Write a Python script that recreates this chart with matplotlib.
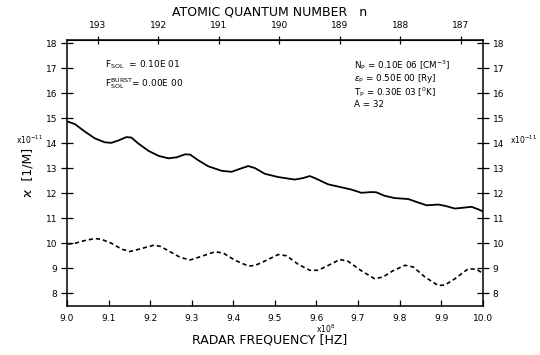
import numpy as np
import matplotlib.pyplot as plt

# radar frequency (x10^8 Hz) and kappa (x10^-11 1/M)
f_solid = [9.002, 9.019, 9.043, 9.067, 9.091, 9.107, 9.123, 9.143, 9.155, 9.171,
           9.196, 9.220, 9.244, 9.264, 9.284, 9.296, 9.316, 9.340, 9.372, 9.396,
           9.416, 9.436, 9.452, 9.476, 9.508, 9.548, 9.568, 9.584, 9.596, 9.628,
           9.660, 9.684, 9.708, 9.732, 9.744, 9.764, 9.788, 9.821, 9.845, 9.865,
           9.893, 9.909, 9.933, 9.957, 9.973, 9.989, 10.000]
k_solid = [14.86, 14.76, 14.46, 14.19, 14.03, 14.01, 14.10, 14.24, 14.22, 13.99,
           13.69, 13.49, 13.39, 13.43, 13.55, 13.54, 13.31, 13.07, 12.89, 12.85,
           12.97, 13.08, 13.00, 12.77, 12.64, 12.54, 12.60, 12.68, 12.60, 12.35,
           12.23, 12.14, 12.01, 12.04, 12.03, 11.89, 11.80, 11.76, 11.62, 11.51,
           11.54, 11.49, 11.38, 11.42, 11.45, 11.35, 11.27]

f_dash = [9.002, 9.019, 9.043, 9.067, 9.083, 9.107, 9.131, 9.151, 9.175, 9.208,
          9.224, 9.244, 9.272, 9.296, 9.324, 9.356, 9.376, 9.404, 9.436, 9.452,
          9.476, 9.508, 9.528, 9.556, 9.584, 9.604, 9.628, 9.656, 9.676, 9.708,
          9.740, 9.760, 9.784, 9.813, 9.833, 9.861, 9.893, 9.909, 9.933, 9.965,
          9.985, 9.998]
k_dash = [9.96, 9.99, 10.10, 10.18, 10.15, 9.99, 9.76, 9.66, 9.76, 9.91,
          9.87, 9.69, 9.43, 9.32, 9.47, 9.65, 9.60, 9.31, 9.08, 9.10,
          9.28, 9.54, 9.49, 9.15, 8.91, 8.91, 9.10, 9.34, 9.27, 8.89,
          8.57, 8.64, 8.89, 9.11, 9.04, 8.64, 8.30, 8.32, 8.57, 8.97,
          8.95, 8.81]

n_ticks = [193, 192, 191, 190, 189, 188, 187]
y_ticks = list(range(8, 19))
x_ticks = [9.0, 9.1, 9.2, 9.3, 9.4, 9.5, 9.6, 9.7, 9.8, 9.9, 10.0]


def f2n(f):
    return 193 - (np.asarray(f) - 9.0745) / 0.1454


def n2f(n):
    return 9.0745 + (193 - np.asarray(n)) * 0.1454


plt.rcParams['font.family'] = 'DejaVu Sans'
fig = plt.figure(figsize=(5.4, 3.55), dpi=100)
ax = fig.add_axes([0.124, 0.138, 0.770, 0.749])

ax.plot(f_solid, k_solid, c="black", lw=1.3, solid_joinstyle="round")
ax.plot(f_dash, k_dash, c="black", lw=1.2, ls=(0, (2.5, 1.8)))

ax.set_xlim(9.0, 10.0)
ax.set_ylim(7.48, 18.12)
ax.set_xticks(x_ticks)
ax.set_xticklabels(["%.1f" % v for v in x_ticks])
ax.set_yticks(y_ticks)
ax.tick_params(axis="y", direction="inout", length=8, width=0.9, labelsize=6.5,
               left=True, right=True, labelleft=True, labelright=True, pad=3)
ax.tick_params(axis="x", direction="in", length=4, width=0.9, labelsize=6.5, pad=6)
for s in ax.spines.values():
    s.set_linewidth(1.1)

top = ax.secondary_xaxis("top", functions=(f2n, n2f))
top.set_xticks(n_ticks)
top.tick_params(direction="inout", length=6, width=0.9, labelsize=6.5, pad=4)

fig.text(0.5, 0.965, "ATOMIC QUANTUM NUMBER   n", ha="center", va="center", fontsize=9)
fig.text(0.5, 0.042, "RADAR FREQUENCY [HZ]", ha="center", va="center", fontsize=9)
fig.text(0.052, 0.513, "ϰ  [1/M]", ha="center", va="center", rotation=90, fontsize=9)
fig.text(0.603, 0.074, r"x10$^{8}$", ha="center", va="center", fontsize=5.5)
fig.text(0.080, 0.606, r"x10$^{-11}$", ha="right", va="center", fontsize=5.5)
fig.text(0.944, 0.606, r"x10$^{-11}$", ha="left", va="center", fontsize=5.5)

ax.text(0.091, 0.906, r"F$_{\mathrm{SOL}}$  = 0.10E 01", transform=ax.transAxes,
        fontsize=6.5, va="center")
ax.text(0.091, 0.838, r"F$_{\mathrm{SOL}}^{\mathrm{BURST}}$= 0.00E 00", transform=ax.transAxes,
        fontsize=6.5, va="center")
ax.text(0.69, 0.908, r"N$_{\mathrm{P}}$ = 0.10E 06 [CM$^{-3}$]", transform=ax.transAxes,
        fontsize=6.3, va="center")
ax.text(0.69, 0.857, r"$\epsilon_{\mathrm{P}}$ = 0.50E 00 [Ry]", transform=ax.transAxes,
        fontsize=6.3, va="center")
ax.text(0.69, 0.805, r"T$_{\mathrm{P}}$ = 0.30E 03 [$^{0}$K]", transform=ax.transAxes,
        fontsize=6.3, va="center")
ax.text(0.69, 0.758, "A = 32", transform=ax.transAxes, fontsize=6.3, va="center")

fig.savefig("out.png", dpi=100)
